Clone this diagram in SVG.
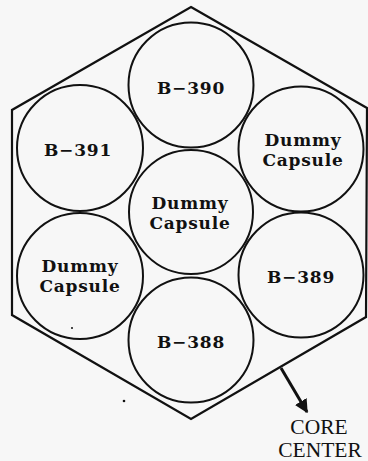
<svg xmlns="http://www.w3.org/2000/svg" width="368" height="461" viewBox="0 0 368 461">
<style>
.bg{fill:#f7f7f7}
.cap{fill:none;stroke:#111;stroke-width:2}
.hex{fill:none;stroke:#111;stroke-width:2.2;stroke-linejoin:miter}
.lbl{font-family:"DejaVu Serif","Liberation Serif",serif;font-weight:bold;font-size:17px;fill:#111;text-anchor:middle;letter-spacing:0.8px}
.cc{font-family:"Liberation Serif","DejaVu Serif",serif;font-size:21.5px;fill:#111;text-anchor:middle}
</style>
<defs>
<marker id="ah" viewBox="0 0 10 10" refX="9" refY="5" markerWidth="4.5" markerHeight="4.5" orient="auto" markerUnits="strokeWidth">
<path d="M0,0 L10,5 L0,10 z" fill="#111"/>
</marker>
</defs>
<rect class="bg" x="0" y="0" width="368" height="461"/>
<g id="assembly">
<polygon class="hex" points="191,7 367,108 366,317 191,419 12,315 12,110"/>
</g>
<g id="B-390">
<circle class="cap" cx="191" cy="85" r="62.5"/>
<text class="lbl" x="191" y="94">B−390</text>
</g>
<g id="B-391">
<circle class="cap" cx="80" cy="148" r="63"/>
<text class="lbl" x="78" y="156">B−391</text>
</g>
<g id="dummy-ur">
<circle class="cap" cx="301" cy="149" r="62.5"/>
<text class="lbl" x="303" y="146">Dummy</text>
<text class="lbl" x="303" y="166">Capsule</text>
</g>
<g id="dummy-center">
<circle class="cap" cx="191" cy="212" r="62"/>
<text class="lbl" x="190" y="209">Dummy</text>
<text class="lbl" x="190" y="229">Capsule</text>
</g>
<g id="dummy-ll">
<circle class="cap" cx="80" cy="276" r="63"/>
<text class="lbl" x="80" y="272">Dummy</text>
<text class="lbl" x="80" y="292">Capsule</text>
</g>
<g id="B-389">
<circle class="cap" cx="301" cy="275" r="62.5"/>
<text class="lbl" x="301" y="283">B−389</text>
</g>
<g id="B-388">
<circle class="cap" cx="191" cy="340" r="62.5"/>
<text class="lbl" x="191" y="348">B−388</text>
</g>
<g id="connectors">
<line x1="281" y1="368" x2="307" y2="412" stroke="#111" stroke-width="3" marker-end="url(#ah)"/>
</g>
<g id="core-center">
<text class="cc" x="319" y="434">CORE</text>
<text class="cc" x="320" y="457">CENTER</text>
</g>
<circle cx="72" cy="328" r="1" fill="#111"/>
<circle cx="124" cy="401" r="1.3" fill="#111"/>
</svg>
